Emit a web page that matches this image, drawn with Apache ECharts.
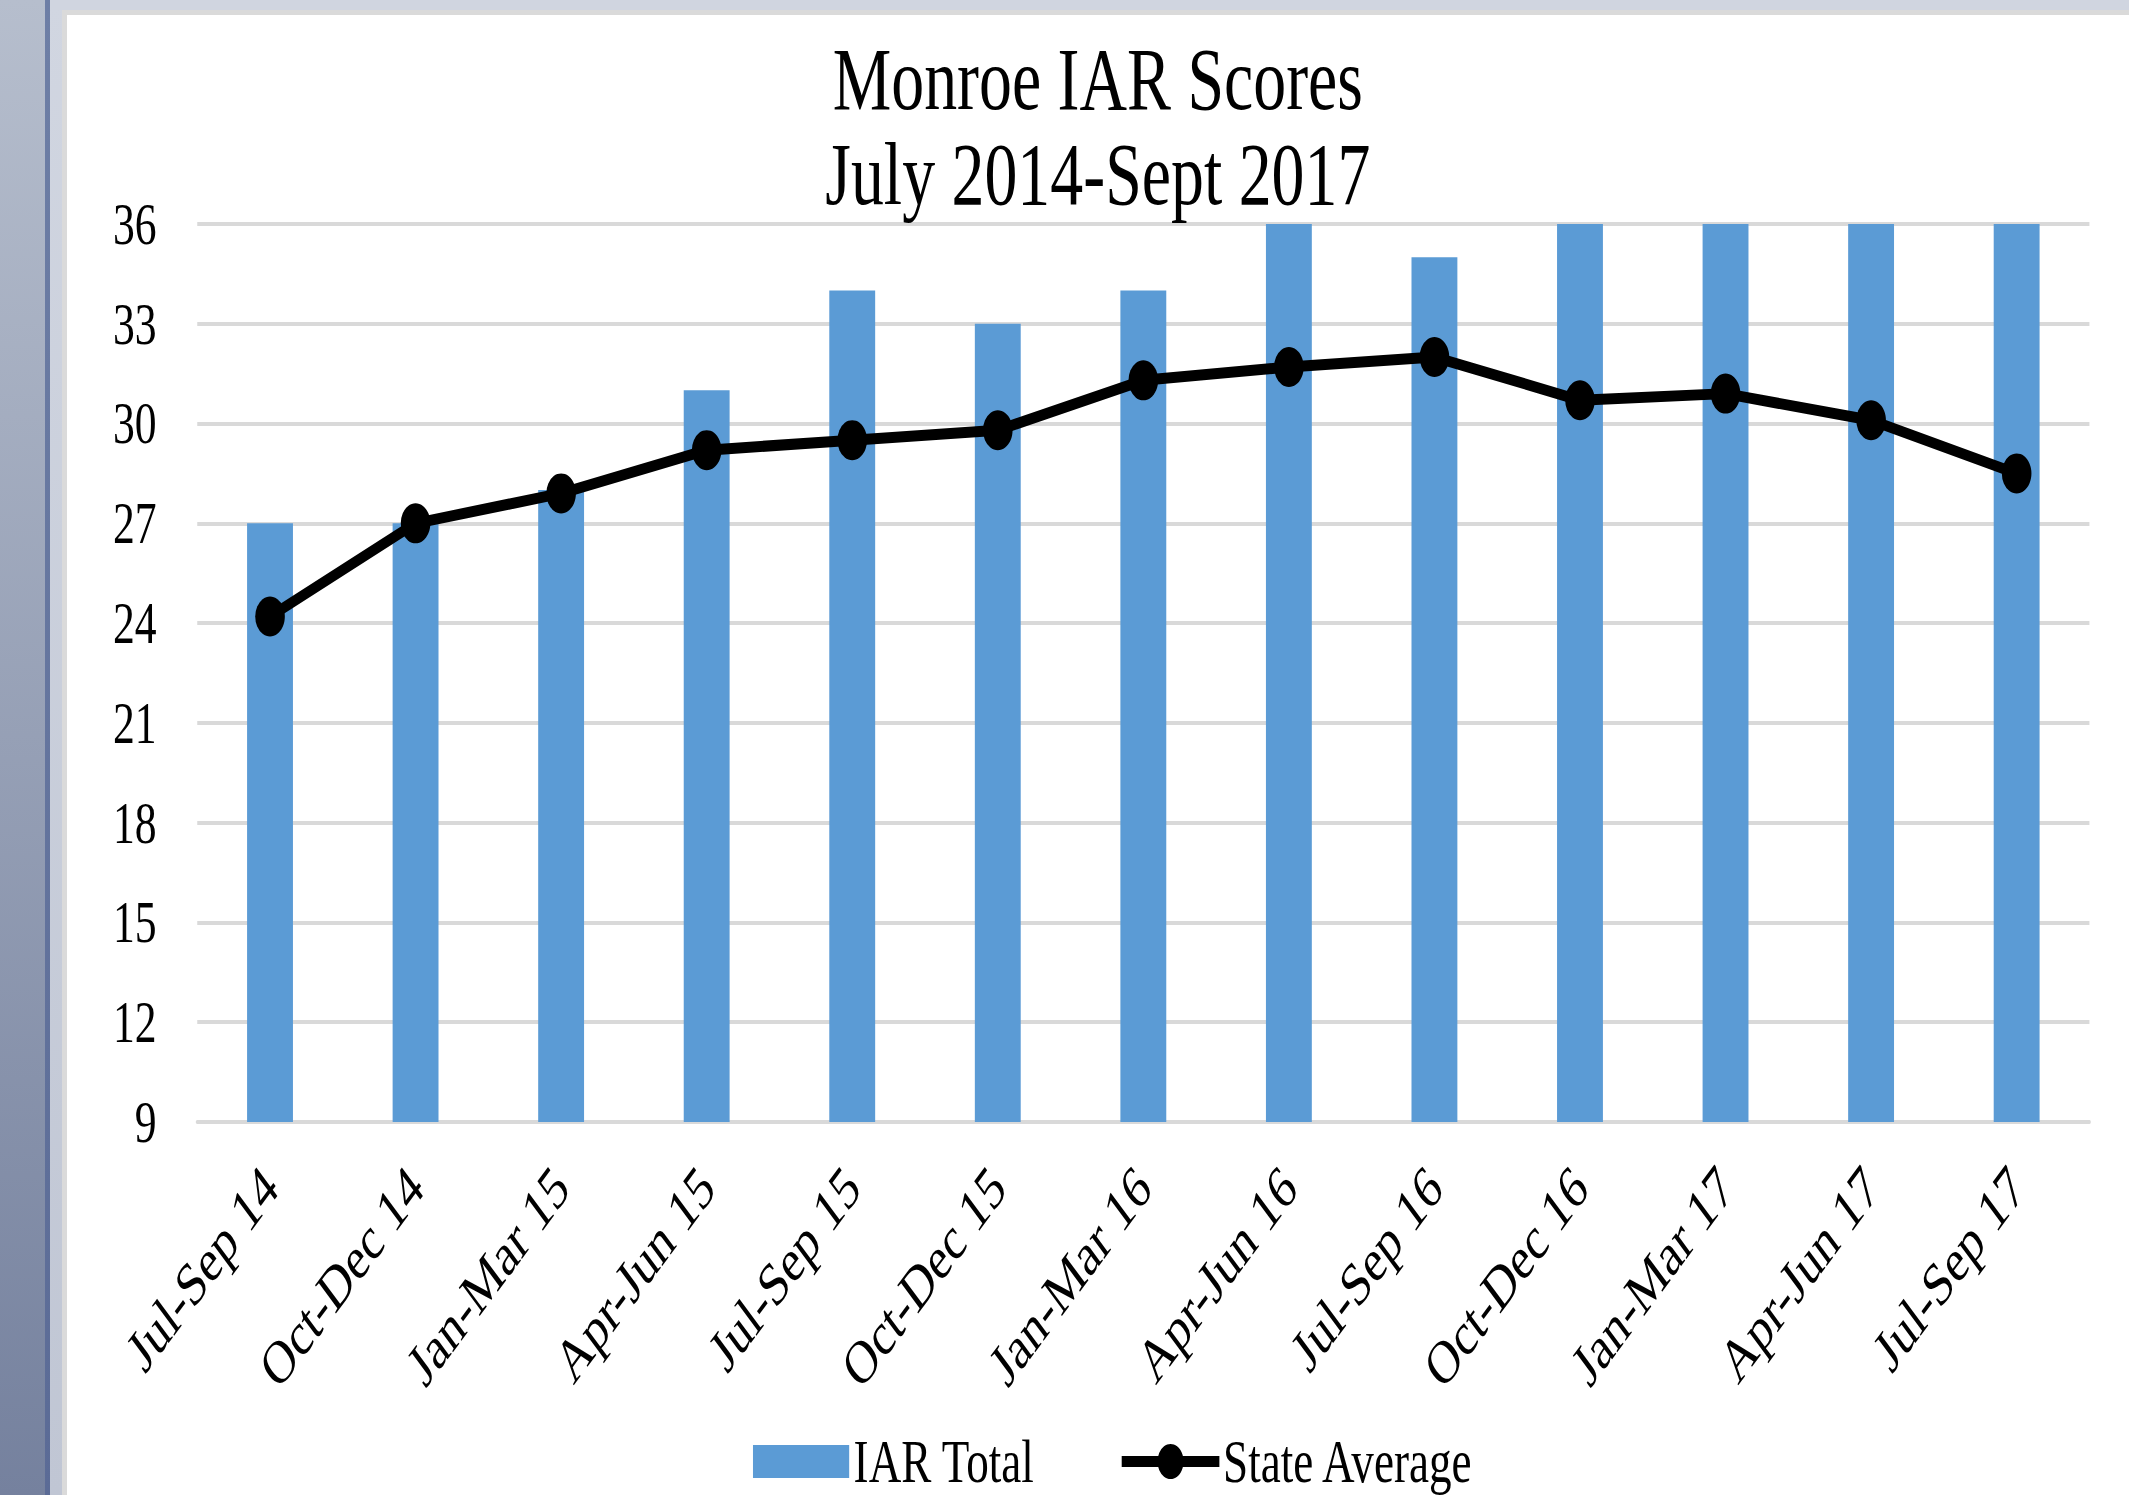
<!DOCTYPE html>
<html><head><meta charset="utf-8">
<script src="https://cdn.jsdelivr.net/npm/echarts@6/dist/echarts.min.js"></script>
<style>
html,body{margin:0;padding:0;width:2129px;height:1495px;overflow:hidden;background:#fff;}
.f{position:absolute;}
#bgLeft{left:0;top:0;width:45px;height:1495px;background:linear-gradient(#b6becd,#75819e);}
#bgLine{left:45px;top:0;width:5px;height:1495px;background:linear-gradient(#6e7fa6,#5b6b96);}
#bgLight{left:50px;top:0;width:12px;height:1495px;background:linear-gradient(#d1d6e1,#c0c6d4);}
#bgTop{left:50px;top:0;width:2079px;height:10px;background:#d0d5e0;}
#bgGrayV{left:62px;top:10px;width:5px;height:1485px;background:#dadada;}
#bgGrayH{left:62px;top:10px;width:2067px;height:5px;background:#dadada;}
#chart{position:absolute;left:67px;top:15px;width:2786px;height:1480px;transform-origin:0 0;transform:scaleX(0.74);}
</style></head>
<body>
<div class="f" id="bgLeft"></div>
<div class="f" id="bgLine"></div>
<div class="f" id="bgLight"></div>
<div class="f" id="bgTop"></div>
<div class="f" id="bgGrayV"></div>
<div class="f" id="bgGrayH"></div>
<div id="chart"></div>
<script>
const categories = ['Jul-Sep 14','Oct-Dec 14','Jan-Mar 15','Apr-Jun 15','Jul-Sep 15','Oct-Dec 15','Jan-Mar 16','Apr-Jun 16','Jul-Sep 16','Oct-Dec 16','Jan-Mar 17','Apr-Jun 17','Jul-Sep 17'];
const iarTotal = [27, 27, 28, 31, 34, 33, 34, 36, 35, 36, 36, 36, 36];
const stateAverage = [24.2, 27.0, 27.9, 29.2, 29.5, 29.8, 31.3, 31.7, 32.0, 30.7, 30.9, 30.1, 28.5];
const yMin = 9, yMax = 36, yInterval = 3;
const titleText = 'Monroe IAR Scores\nJuly 2014-Sept 2017';
const seriesNames = ['IAR Total', 'State Average'];

const FONT = '"Liberation Serif", "Times New Roman", serif';
// rect legend icon with vertical padding (bounding box 130 x 44, filled band 33 tall)
const RECT_ICON = 'path://M0,0L0.01,0M0,44L0.01,44M0,5.5L130,5.5L130,38.5L0,38.5Z';
const chart = echarts.init(document.getElementById('chart'), null, {renderer: 'svg', width: 2786, height: 1480});
chart.setOption({
  animation: false,
  backgroundColor: '#ffffff',
  title: {
    text: titleText,
    left: 'center',
    top: 11,
    textStyle: {fontFamily: FONT, fontSize: 89, lineHeight: 95, fontWeight: 'normal', color: '#000'}
  },
  legend: {
    left: 922,
    top: 1411,
    itemWidth: 132,
    itemHeight: 44,
    itemGap: 112,
    textStyle: {fontFamily: FONT, fontSize: 61, color: '#000'},
    lineStyle: {width: 11},
    data: [{name: seriesNames[0], icon: RECT_ICON}, {name: seriesNames[1]}]
  },
  grid: {left: 176, right: 53, top: 209, bottom: 373, outerBoundsMode: 'none', containLabel: false},
  xAxis: {
    type: 'category',
    data: categories,
    axisLine: {show: true, lineStyle: {color: '#d9d9d9', width: 4}},
    axisTick: {show: false},
    axisLabel: {rotate: 45, margin: 55, fontFamily: FONT, fontSize: 61, color: '#000', interval: 0}
  },
  yAxis: {
    type: 'value',
    min: yMin, max: yMax, interval: yInterval,
    axisLine: {show: false},
    axisTick: {show: false},
    splitLine: {lineStyle: {color: '#d9d9d9', width: 4}},
    axisLabel: {margin: 55, fontFamily: FONT, fontSize: 59, color: '#000'}
  },
  series: [
    {
      name: seriesNames[0],
      type: 'bar',
      data: iarTotal,
      barWidth: 62,
      itemStyle: {color: '#5b9bd5'}
    },
    {
      name: seriesNames[1],
      type: 'line',
      data: stateAverage,
      symbol: 'circle',
      symbolSize: 40,
      lineStyle: {color: '#000', width: 11},
      itemStyle: {color: '#000'},
      z: 5
    }
  ]
});
</script>
</body></html>
